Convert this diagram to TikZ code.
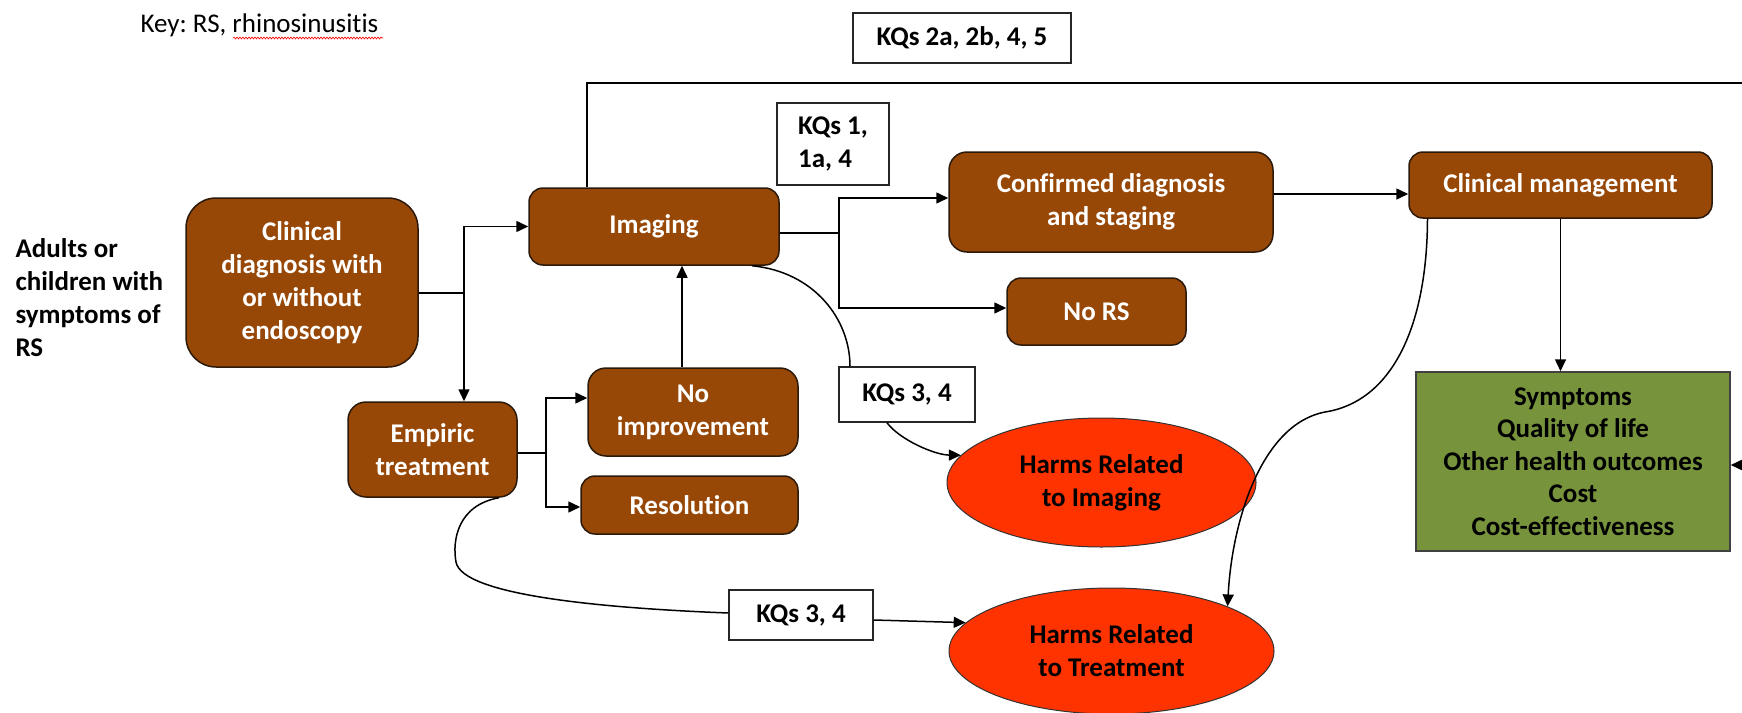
\documentclass[tikz,border=0pt]{standalone}
\usepackage{fontspec}
\setmainfont{Carlito}[Ligatures=NoCommon]
\frenchspacing
\usetikzlibrary{arrows.meta,shapes.geometric,decorations.pathmorphing}
\definecolor{bbrown}{HTML}{974706}
\definecolor{ggreen}{HTML}{77933C}
\definecolor{rred}{HTML}{FF3300}
\definecolor{edgec}{HTML}{2B1A0A}
\begin{document}
\begin{tikzpicture}[x=1pt,y=-1pt,
  font=\fontsize{27}{33}\selectfont\bfseries,
  bbox/.style={draw=edgec, line width=1.5pt, fill=bbrown, text=white, align=center, inner sep=0pt, rounded corners=#1},
  bbox/.default=14pt,
  kqbox/.style={draw=black!85, line width=1.5pt, fill=white, align=center, inner sep=0pt},
  harm/.style={ellipse, draw=black!80, line width=1pt, fill=rred, align=center, inner sep=0pt},
  outc/.style={draw=black!75, line width=1.5pt, fill=ggreen, align=center, inner sep=0pt},
  conn/.style={line width=1.5pt, black},
  arr/.style={conn, -{Triangle[length=12pt,width=11pt]}},
]
\clip (0,0) rectangle (1742,712);
\fill[white] (0,0) rectangle (1742,712);

% texts
\node[anchor=west, font=\fontsize{27}{33}\selectfont] (key) at (137,25) {Key: RS, rhinosinusitis};
\draw[red, line width=0.6pt, decorate, decoration={snake, amplitude=1pt, segment length=3pt}] (233,38) -- (383,38);
\node[anchor=west, align=left] (pop) at (12,298) {Adults or\\children with\\symptoms of\\RS};

% brown boxes
\node[bbox=30pt, minimum width=232pt, minimum height=169pt] (clin) at (302,282.5) {Clinical\\diagnosis with\\or without\\endoscopy};
\node[bbox, minimum width=250pt, minimum height=77pt] (img) at (654,226.5) {Imaging};
\node[bbox=18pt, minimum width=324pt, minimum height=100pt] (conf) at (1111,202) {Confirmed diagnosis\\and staging};
\node[bbox, minimum width=303pt, minimum height=66pt] (mgmt) at (1560.5,185) {Clinical management};
\node[bbox, minimum width=179pt, minimum height=67pt] (nors) at (1096.5,311.5) {No RS};
\node[bbox=18pt, minimum width=169pt, minimum height=95pt] (emp) at (432.5,449.5) {Empiric\\treatment};
\node[bbox=18pt, minimum width=210pt, minimum height=88pt] (noimp) at (693,412) {No\\improvement};
\node[bbox, minimum width=217pt, minimum height=58pt] (res) at (689.5,505) {Resolution};

% KQ boxes
\node[kqbox, minimum width=218pt, minimum height=50pt] (kqtop) at (962,38) {KQs 2a, 2b, 4, 5};
\node[kqbox, minimum width=112pt, minimum height=82pt, align=left] (kq1) at (833,144) {KQs 1,\\1a, 4};
\node[kqbox, minimum width=136pt, minimum height=55pt] (kq3a) at (907,394.5) {KQs 3, 4};
\node[kqbox, minimum width=144pt, minimum height=50pt] (kq3b) at (801,615) {KQs 3, 4};

% outcomes
\node[outc, minimum width=314pt, minimum height=179pt, font=\fontsize{27}{32.5}\selectfont\bfseries] (outc) at (1573,461.5) {Symptoms\\Quality of life\\Other health outcomes\\Cost\\Cost-effectiveness};

% harms
\node[harm, minimum width=309pt, minimum height=129pt] (hi) at (1101.5,482.5) {Harms Related\\to Imaging};
\node[harm, minimum width=325pt, minimum height=126pt] (ht) at (1111.5,651) {Harms Related\\to Treatment};

% connectors
\coordinate (j1) at (464,293);
\draw[conn] ([yshift=-10.5pt]clin.east) -- (j1);
\draw[arr] (j1) |- (img.west);
\draw[arr] (j1) -- (j1 |- emp.north);

\coordinate (j2) at (839,233);
\draw[conn] ([yshift=-6.5pt]img.east) -- (j2);
\draw[arr] (j2) |- ([yshift=4pt]conf.west);
\draw[arr] (j2) |- ([yshift=3.5pt]nors.west);

\draw[arr] ([yshift=8pt]conf.east) -- ([yshift=8pt]conf.east -| mgmt.west);
\draw[arr] (mgmt.south) -- (mgmt.south |- outc.north);

\coordinate (tr) at (1765,83);
\draw[arr] ([xshift=-67pt]img.north) |- (tr) |- ([yshift=-3.5pt]outc.east);

\coordinate (j3) at (546,453);
\draw[conn] ([yshift=-3.5pt]emp.east) -- (j3);
\draw[arr] (j3) |- ([yshift=14pt]noimp.west);
\draw[arr] (j3) |- ([yshift=-2pt]res.west);
\draw[arr] ([xshift=-11pt]noimp.north) -- ([xshift=-11pt]noimp.north |- img.south);

\draw[conn] ([xshift=98pt]img.south) .. controls (815,272) and (850,320) .. ([xshift=-57pt]kq3a.north);
\draw[arr] ([xshift=-20pt]kq3a.south) .. controls (900,440) and (935,455) .. (hi.169);
\draw[conn] ([xshift=66.5pt]emp.south) .. controls (458,505) and (452,540) .. (456,562) .. controls (462,595) and (600,608) .. ([yshift=2pt]kq3b.west);
\draw[arr] ([yshift=-5pt]kq3b.east) -- (ht.169);
\draw[arr] ([xshift=-133pt]mgmt.south) .. controls (1427,330) and (1390,402) .. (1325,412) .. controls (1262,424) and (1232,520) .. (ht.21);
\end{tikzpicture}
\end{document}
